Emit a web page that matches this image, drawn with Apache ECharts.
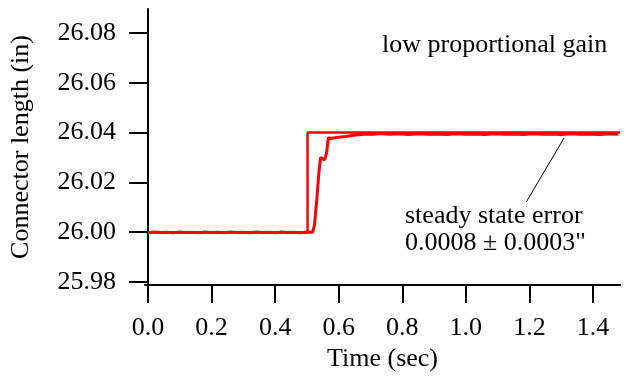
<!DOCTYPE html>
<html>
<head>
<meta charset="utf-8">
<script src="https://cdn.jsdelivr.net/npm/echarts@6/dist/echarts.min.js"></script>
<style>
html,body{margin:0;padding:0;background:#fff;}
#c{width:627px;height:377px;}
</style>
</head>
<body>
<div id="c"></div>
<script>
// Commanded position (step)
const cmdTime = [0.00, 0.502, 0.502, 1.485];
const cmdValue = [26.000, 26.000, 26.040, 26.040];

// Measured response
const respTime = [0.00, 0.02, 0.04, 0.06, 0.08, 0.10, 0.12, 0.14, 0.16, 0.18, 0.20, 0.22, 0.24, 0.26, 0.28, 0.30,
  0.32, 0.34, 0.36, 0.38, 0.40, 0.42, 0.44, 0.46, 0.48, 0.50, 0.518, 0.524, 0.531, 0.537, 0.543, 0.549, 0.556,
  0.562, 0.568, 0.575, 0.581, 0.593, 0.607, 0.622, 0.637, 0.653, 0.67, 0.69, 0.71, 0.73, 0.76, 0.79, 0.82, 0.85,
  0.88, 0.91, 0.94, 0.97, 1.00, 1.03, 1.06, 1.09, 1.12, 1.15, 1.18, 1.21, 1.24, 1.27, 1.30, 1.33, 1.36, 1.39,
  1.42, 1.45, 1.48];
const respValue = [25.9998, 26.0001, 25.9999, 26.0000, 25.9998, 26.0001, 25.9999, 26.0000, 25.9998, 26.0001,
  25.9999, 26.0000, 25.9998, 26.0001, 25.9999, 26.0000, 25.9998, 26.0001, 25.9999, 26.0000, 25.9998, 26.0001,
  25.9999, 26.0000, 25.9998, 26.0000, 26.0000, 26.0030, 26.0130, 26.0230, 26.0300, 26.0302, 26.0290,
  26.0320, 26.0380, 26.0376, 26.0377, 26.0380, 26.0382, 26.0384, 26.0387, 26.0390, 26.0392, 26.0394, 26.0393, 26.0396,
  26.0393, 26.0395, 26.0392, 26.0395, 26.0393, 26.0394, 26.0392, 26.0395, 26.0393, 26.0394, 26.0392, 26.0395,
  26.0393, 26.0394, 26.0392, 26.0395, 26.0393, 26.0394, 26.0392, 26.0395, 26.0393, 26.0394, 26.0392, 26.0395, 26.0393];

const xTicks = [0.0, 0.2, 0.4, 0.6, 0.8, 1.0, 1.2, 1.4];
const yTicks = [25.98, 26.00, 26.02, 26.04, 26.06, 26.08];

// Annotation pointer (data coordinates)
const pointerT = [1.309, 1.19];
const pointerV = [26.0378, 26.0121];

const labelTop = 'low proportional gain';
const labelErr1 = 'steady state error';
const labelErr2 = '0.0008 \u00b1 0.0003"';

const FONT = '"Liberation Serif", "Times New Roman", serif';
const FS = 26;
const chart = echarts.init(document.getElementById('c'), null, {renderer: 'canvas'});

const zip = (a, b) => a.map((v, i) => [v, b[i]]);

chart.setOption({
  animation: false,
  backgroundColor: '#fff',
  grid: {left: 144, top: 9, right: 7, bottom: 92, containLabel: false},
  xAxis: {
    type: 'value', min: -0.0094, max: 1.485,
    name: 'Time (sec)', nameLocation: 'middle', nameGap: 61,
    nameTextStyle: {fontFamily: FONT, fontSize: FS, color: '#000'},
    axisLine: {lineStyle: {color: '#000', width: 2}},
    axisTick: {show: true, inside: false, length: 18, lineStyle: {color: '#000', width: 2}, customValues: xTicks},
    axisLabel: {fontFamily: FONT, fontSize: FS, color: '#000', margin: 30, customValues: xTicks,
      formatter: v => v.toFixed(1)},
    splitLine: {show: false}
  },
  yAxis: {
    type: 'value', min: 25.9788, max: 26.0896,
    name: 'Connector length (in)', nameLocation: 'middle', nameGap: 111, nameRotate: 90,
    nameTextStyle: {fontFamily: FONT, fontSize: FS, color: '#000'},
    axisLine: {lineStyle: {color: '#000', width: 2}},
    axisTick: {show: true, inside: false, length: 19, lineStyle: {color: '#000', width: 2}, customValues: yTicks},
    axisLabel: {fontFamily: FONT, fontSize: FS, color: '#000', margin: 29, customValues: yTicks,
      formatter: v => v.toFixed(2)},
    splitLine: {show: false}
  },
  series: [
    {
      type: 'line', name: 'command', data: zip(cmdTime, cmdValue), showSymbol: false,
      lineStyle: {color: '#ff0000', width: 2.5}, z: 2
    },
    {
      type: 'line', name: 'response', data: zip(respTime, respValue), showSymbol: false,
      lineStyle: {color: '#ff0000', width: 3}, z: 3,
      markLine: {
        silent: true, symbol: ['none', 'none'], label: {show: false},
        lineStyle: {color: '#000', width: 1, type: 'solid'},
        data: [[{coord: [pointerT[0], pointerV[0]]}, {coord: [pointerT[1], pointerV[1]]}]]
      }
    }
  ],
  graphic: [
    {type: 'text', left: 382, top: 32, style: {text: labelTop, font: FS + 'px ' + FONT, fill: '#000'}},
    {type: 'text', left: 405, top: 203, style: {text: labelErr1, font: FS + 'px ' + FONT, fill: '#000'}},
    {type: 'text', left: 405, top: 230, style: {text: labelErr2, font: FS + 'px ' + FONT, fill: '#000'}}
  ]
});
</script>
</body>
</html>
